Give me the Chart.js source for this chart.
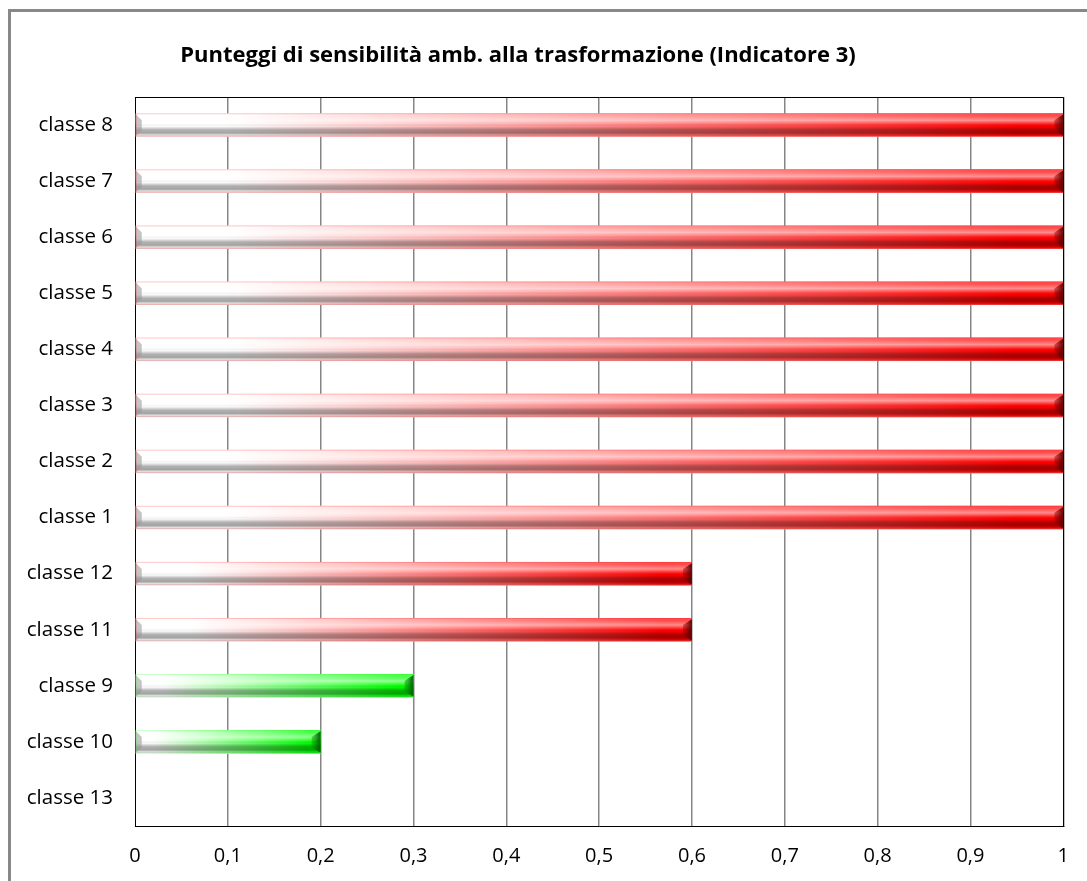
<!DOCTYPE html>
<html>
<head>
<meta charset="utf-8">
<script src="https://cdn.jsdelivr.net/npm/chart.js@4"></script>
<style>
  html, body { margin: 0; padding: 0; background: #fff; overflow: hidden; }
  canvas { display: block; }
</style>
</head>
<body>
<canvas id="c" width="1087" height="881"></canvas>
<script>
// Classes, top to bottom as listed on the vertical axis
const categories = ['classe 8', 'classe 7', 'classe 6', 'classe 5', 'classe 4', 'classe 3',
                    'classe 2', 'classe 1', 'classe 12', 'classe 11', 'classe 9', 'classe 10', 'classe 13'];
// Environmental sensitivity score for each class
const scores = [1, 1, 1, 1, 1, 1, 1, 1, 0.6, 0.6, 0.3, 0.2, 0];
// Colour group per class: 'r' = red, 'g' = green
const groups = ['r', 'r', 'r', 'r', 'r', 'r', 'r', 'r', 'r', 'r', 'g', 'g', 'r'];
// Tick labels of the score axis (Italian decimal comma)
const xTickLabels = ['0', '0,1', '0,2', '0,3', '0,4', '0,5', '0,6', '0,7', '0,8', '0,9', '1'];
const titleText = 'Punteggi di sensibilità amb. alla trasformazione (Indicatore 3)';

const baseColors = { r: [255, 0, 0], g: [0, 255, 0] };
const FONT = '"Open Sans", Lato, "DejaVu Sans", sans-serif';

// Horizontal white-to-colour fill of each bar
function barFill(ctx) {
  const chart = ctx.chart;
  const i = ctx.dataIndex;
  const c = baseColors[groups[i]];
  const solid = `rgb(${c[0]},${c[1]},${c[2]})`;
  if (!chart.chartArea || ctx.type !== 'data') return solid;
  const xs = chart.scales.x;
  const x0 = xs.getPixelForValue(0);
  const x1 = xs.getPixelForValue(scores[i]);
  if (x1 - x0 < 1) return solid;
  const g = chart.ctx.createLinearGradient(x0, 0, x1, 0);
  g.addColorStop(0, '#ffffff');
  g.addColorStop(0.1, '#ffffff');
  g.addColorStop(0.95, solid);
  g.addColorStop(1, solid);
  return g;
}

// Outer frame, plot border and title
const decor = {
  id: 'decor',
  beforeDraw(chart) {
    const ctx = chart.ctx;
    ctx.save();
    ctx.fillStyle = '#ffffff';
    ctx.fillRect(0, 0, chart.width, chart.height);
    ctx.strokeStyle = '#888888';
    ctx.lineWidth = 3;
    ctx.strokeRect(9.5, 10.5, chart.width + 40, chart.height + 40);
    ctx.fillStyle = '#000000';
    ctx.font = 'bold 22px ' + FONT;
    ctx.textAlign = 'center';
    ctx.textBaseline = 'middle';
    ctx.fillText(titleText, 518, 56);
    ctx.restore();
  },
  afterDraw(chart) {
    const a = chart.chartArea;
    const ctx = chart.ctx;
    ctx.save();
    ctx.strokeStyle = '#000000';
    ctx.lineWidth = 1;
    ctx.beginPath();
    ctx.moveTo(Math.round(a.left) + 0.5, Math.round(a.top) + 0.5);
    ctx.lineTo(Math.round(a.right) + 0.5, Math.round(a.top) + 0.5);
    ctx.lineTo(Math.round(a.right) + 0.5, Math.round(a.bottom) + 0.5);
    ctx.stroke();
    ctx.restore();
  }
};

// Cylinder-like shading and bevelled ends on top of each bar
const barShade = {
  id: 'barShade',
  afterDatasetsDraw(chart) {
    const ctx = chart.ctx;
    const meta = chart.getDatasetMeta(0);
    meta.data.forEach((bar, i) => {
      const p = bar.getProps(['x', 'y', 'base', 'height'], true);
      const x0 = p.base, x1 = p.x;
      const w = x1 - x0;
      if (w < 2) return;
      const top = p.y - p.height / 2, bot = p.y + p.height / 2, h = p.height;
      const c = baseColors[groups[i]];
      ctx.save();
      // vertical shading
      const v = ctx.createLinearGradient(0, top, 0, bot);
      v.addColorStop(0, 'rgba(255,255,255,0.3)');
      v.addColorStop(0.12, 'rgba(255,255,255,0.3)');
      v.addColorStop(0.3, 'rgba(255,255,255,0.55)');
      v.addColorStop(0.45, 'rgba(255,255,255,0.15)');
      v.addColorStop(0.56, 'rgba(0,0,0,0.02)');
      v.addColorStop(0.7, 'rgba(0,0,0,0.3)');
      v.addColorStop(0.84, 'rgba(0,0,0,0.36)');
      v.addColorStop(0.92, 'rgba(0,0,0,0.12)');
      v.addColorStop(1, 'rgba(255,255,255,0.45)');
      ctx.fillStyle = v;
      ctx.fillRect(x0, top, w, h);
      // left bevel
      const bw = Math.min(6, w / 3);
      ctx.fillStyle = 'rgba(150,150,150,0.55)';
      ctx.beginPath();
      ctx.moveTo(x0, top + 1);
      ctx.lineTo(x0 + bw, top + 7);
      ctx.lineTo(x0 + bw, bot - 6);
      ctx.lineTo(x0, bot - 1);
      ctx.closePath();
      ctx.fill();
      // right bevel
      const rg = ctx.createLinearGradient(x1 - 9, 0, x1, 0);
      rg.addColorStop(0, `rgba(${Math.round(c[0]*0.6)},${Math.round(c[1]*0.6)},${Math.round(c[2]*0.6)},0.4)`);
      rg.addColorStop(1, `rgba(${Math.round(c[0]*0.3)},${Math.round(c[1]*0.3)},${Math.round(c[2]*0.3)},0.95)`);
      ctx.fillStyle = rg;
      ctx.beginPath();
      ctx.moveTo(x1, top + 1);
      ctx.lineTo(x1 - 9, top + 7);
      ctx.lineTo(x1 - 9, bot - 6);
      ctx.lineTo(x1, bot - 1);
      ctx.closePath();
      ctx.fill();
      // thin outline in a lighter tint
      ctx.strokeStyle = `rgba(${c[0]},${c[1]},${c[2]},0.22)`;
      ctx.lineWidth = 1;
      ctx.strokeRect(x0 + 0.5, top + 0.5, w - 1, h - 1);
      ctx.restore();
    });
  }
};

new Chart(document.getElementById('c'), {
  type: 'bar',
  data: {
    labels: categories,
    datasets: [{
      data: scores,
      backgroundColor: barFill,
      borderWidth: 0,
      barPercentage: 0.42,
      categoryPercentage: 1
    }]
  },
  options: {
    indexAxis: 'y',
    responsive: false,
    animation: false,
    events: [],
    layout: { padding: { top: 97, right: 14, bottom: 0, left: 0 } },
    plugins: { legend: { display: false }, title: { display: false }, tooltip: { enabled: false } },
    scales: {
      x: {
        min: 0, max: 1,
        afterFit(s) { s.height = 55; },
        ticks: {
          stepSize: 0.1,
          padding: 18,
          color: '#000000',
          font: { family: FONT, size: 20 },
          callback(v, i) { return xTickLabels[i]; }
        },
        grid: {
          color: (ctx) => ctx.index === 0 ? 'rgba(0,0,0,0)' : '#868686',
          lineWidth: 1.5,
          drawTicks: false
        },
        border: { display: true, color: '#000000', width: 1 }
      },
      y: {
        afterFit(s) { s.width = 135; },
        ticks: {
          padding: 22,
          color: '#000000',
          font: { family: FONT, size: 20.5 }
        },
        grid: { display: false, drawTicks: false },
        border: { display: true, color: '#000000', width: 1 }
      }
    }
  },
  plugins: [decor, barShade]
});
</script>
</body>
</html>
